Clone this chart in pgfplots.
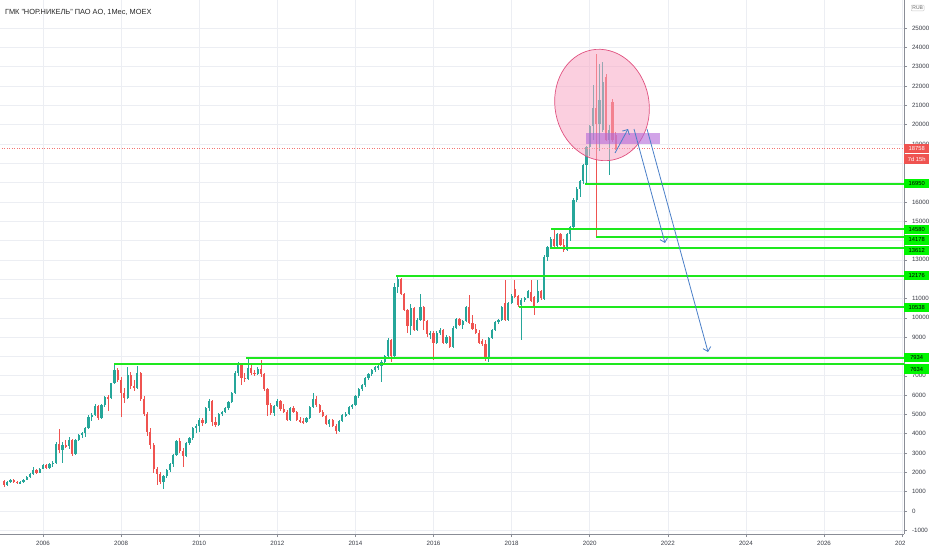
\documentclass[border=0pt]{standalone}
\usepackage{pgfplots}
\pgfplotsset{compat=1.18}
\usepackage{pgfplotstable}
\usepackage{fontspec}
\setmainfont{Liberation Sans}
\usetikzlibrary{arrows.meta}
\definecolor{up}{HTML}{26A69A}
\definecolor{dn}{HTML}{EF5350}
\definecolor{lvl}{HTML}{1EE81E}
\definecolor{lvlbox}{HTML}{00F500}
\definecolor{gridc}{HTML}{ECEEF3}
\definecolor{axc}{HTML}{8A8D96}
\definecolor{txtc}{HTML}{3A3D46}
\definecolor{ellfill}{HTML}{F7A8C4}
\definecolor{elldraw}{HTML}{E0507F}
\definecolor{zone}{HTML}{B267D8}
\definecolor{arr}{HTML}{4A7FC8}

\pgfplotstableread{
i o h l c
0 1550 1600 1250 1350
1 1350 1550 1300 1500
2 1500 1650 1450 1600
3 1600 1650 1450 1520
4 1520 1560 1400 1450
5 1450 1550 1400 1500
6 1500 1650 1450 1620
7 1620 1800 1580 1750
8 1750 1950 1700 1900
9 1900 2300 1850 2100
10 2100 2150 1900 1980
11 1980 2250 1950 2200
12 2200 2450 2150 2400
13 2400 2450 2150 2250
14 2250 2500 2200 2450
15 2450 2600 2300 2500
16 2500 3550 2450 3450
17 3450 4240 3000 3150
18 3150 3550 2500 3400
19 3400 3650 3250 3350
20 3350 3850 3200 3700
21 3700 3750 2850 2950
22 2950 3750 2900 3650
23 3650 4000 3600 3950
24 3950 4100 3800 4050
25 4050 4350 3850 4300
26 4300 4950 4250 4850
27 4850 5050 4650 4950
28 4950 5550 4900 5450
29 5450 5500 4700 4800
30 4800 5550 4750 5500
31 5500 5950 5400 5900
32 5900 6000 5200 5850
33 5850 6650 5800 6600
34 6600 7634 6550 7300
35 7300 7400 6700 6800
36 6800 6950 4880 6100
37 6100 6350 5600 5850
38 5850 7450 5800 7050
39 7050 7200 6300 6450
40 6450 6800 6200 6350
41 6350 7500 6300 7150
42 7150 7200 5700 5800
43 5800 5950 4900 5000
44 5000 5100 3900 4100
45 4100 4300 3200 3400
46 3400 3500 1950 2150
47 2150 2300 1350 1900
48 1900 2000 1400 1500
49 1500 1850 1150 1800
50 1800 2150 1700 2100
51 2100 2500 2000 2450
52 2450 2950 2300 2900
53 2900 3650 2850 3600
54 3600 3800 3000 3100
55 3100 3250 2300 2850
56 2850 3550 2800 3500
57 3500 3850 3400 3800
58 3800 4350 3700 4300
59 4300 4500 4050 4400
60 4400 4800 4100 4700
61 4700 4800 4400 4550
62 4550 5400 4500 5350
63 5350 5800 5200 5700
64 5700 5750 4400 4600
65 4600 4850 4350 4450
66 4450 5050 4400 5000
67 5000 5200 4900 5150
68 5150 5400 5050 5350
69 5350 5700 5250 5650
70 5650 6150 5600 6100
71 6100 7250 6050 7150
72 7150 7700 7000 7550
73 7550 7600 6500 6900
74 6900 7150 6700 6850
75 6850 7934 6800 7400
76 7400 7650 7050 7150
77 7150 7300 7000 7100
78 7100 7450 7050 7350
79 7350 7800 6950 7100
80 7100 7150 6200 6300
81 6300 6350 4900 5500
82 5500 5600 4950 5050
83 5050 5500 4900 5450
84 5450 5800 5400 5700
85 5700 5750 5200 5300
86 5300 5550 5050 5150
87 5150 5250 4650 4700
88 4700 5400 4650 5350
89 5350 5450 5050 5100
90 5100 5200 4650 4700
91 4700 4850 4550 4650
92 4650 4800 4500 4600
93 4600 4850 4550 4800
94 4800 5450 4750 5400
95 5400 6100 5350 5800
96 5800 5950 5400 5500
97 5500 5550 5100 5150
98 5150 5250 4850 4900
99 4900 4950 4450 4500
100 4500 4750 4350 4700
101 4700 4750 4350 4400
102 4400 4500 4000 4150
103 4150 4700 4100 4650
104 4650 5000 4600 4950
105 4950 5100 4850 5000
106 5000 5450 4950 5400
107 5400 5550 5300 5500
108 5500 6000 5450 5950
109 5950 6350 5850 6300
110 6300 6550 6200 6500
111 6500 6950 6400 6900
112 6900 7150 6800 7100
113 7100 7350 7000 7300
114 7300 7500 7200 7450
115 7450 7600 7300 7500
116 7500 7800 6700 7700
117 7700 8100 7600 8000
118 8000 8950 7950 8850
119 8850 8900 7700 8000
120 8000 11800 7950 11600
121 11600 12176 11300 12000
122 12000 12050 11200 11250
123 11250 11300 10350 10400
124 10400 10450 9200 9600
125 9600 10700 9100 10500
126 10500 10550 9300 9350
127 9350 10000 9300 9900
128 9900 11250 9850 10550
129 10550 10600 9350 9850
130 9850 9900 9000 9150
131 9150 9300 8900 9200
132 9200 9300 7800 8700
133 8700 9300 8650 9200
134 9200 9450 9100 9350
135 9350 9400 8650 8700
136 8700 9100 8650 9000
137 9000 9050 8450 8500
138 8500 9600 8450 9450
139 9450 10000 9400 9950
140 9950 10000 9600 9650
141 9650 9900 9400 9850
142 9850 10600 9800 10550
143 10550 11174 9700 9750
144 9750 10150 9350 9400
145 9400 9700 9150 9200
146 9200 9350 8650 8700
147 8800 8900 8550 8650
148 8650 8850 7750 7900
149 7900 9000 7700 8950
150 8950 9400 8900 9350
151 9350 9850 9300 9800
152 9800 9950 9700 9900
153 9900 10600 9850 10550
154 10750 11950 9850 9900
155 9900 10800 9850 10750
156 10750 11250 10700 11150
157 11500 11950 11000 11100
158 11150 11200 10538 10650
159 10650 11000 8850 10900
160 10900 11100 10800 11000
161 11050 11450 11000 11400
162 11350 11950 10800 10850
163 11100 11150 10150 10550
164 10800 11950 10750 11400
165 11400 11450 10900 11000
166 10950 13250 10900 13150
167 13150 13700 12950 13650
168 13650 14200 13612 14100
169 14100 14580 13600 13700
170 13700 14400 13650 14350
171 14350 14400 13700 13750
172 13750 14100 13400 13500
173 13500 14400 13450 14350
174 14350 14750 14000 14700
175 14700 16200 14600 16100
176 16100 16750 16000 16650
177 16650 17150 16250 17100
178 17100 17950 16900 17900
179 17900 18900 16950 18850
180 18850 20000 18350 19950
181 19950 22050 19200 20850
182 20850 23675 14178 20050
183 20050 23150 18650 21250
184 19700 23244 19600 22200
185 22450 22600 19150 19200
186 19200 20000 17380 19700
187 21150 21300 19100 19200
188 19450 19600 18700 18758
}\candles

\pgfplotsset{
  candle/.style 2 args={draw=none, mark=none, forget plot,
    error bars/.cd, y dir=both, y explicit, error mark=none,
    error bar style={draw=#1, line width=#2, solid}},
  level/.style={draw=lvl, line width=2pt, mark=none, forget plot},
}

\begin{document}
\begin{tikzpicture}
\begin{axis}[
  scale only axis, width=904pt, height=534pt,
  at={(0,0)}, anchor=south west,
  xmin=2004.899, xmax=2028.048,
  ymin=-1190, ymax=26449,
  axis x line*=bottom, axis y line*=right,
  x axis line style={-, draw=axc, line width=0.6pt},
  y axis line style={-, draw=axc, line width=0.6pt},
  xtick={2006,2008,...,2028},
  ytick={-1000,0,...,7000,9000,10000,11000,13000,15000,16000,19000,20000,21000,22000,23000,24000,25000},
  extra y ticks={8000,12000,14000,17000,18000},
  extra y tick labels={},
  extra y tick style={grid=major},
  scaled y ticks=false, scaled x ticks=false,
  grid=major, major grid style={draw=gridc, line width=0.6pt},
  tick align=outside, major tick length=3pt,
  tick style={draw=axc, line width=0.5pt},
  /pgf/number format/assume math mode=true,
  /pgf/number format/1000 sep={},
  ticklabel style={font=\fontsize{6.2}{7}\selectfont, text=txtc},
  yticklabel style={anchor=west, xshift=1.5pt},
  xticklabel style={yshift=-1pt},
  clip mode=individual,
]
% candles: wicks and bodies
\addplot[candle={up}{0.75pt}]
  table[x expr=2005+\thisrow{i}/12,
        y expr={\thisrow{c}>=\thisrow{o} ? \thisrow{c} : nan},
        y error plus expr=\thisrow{h}-\thisrow{c},
        y error minus expr=\thisrow{c}-\thisrow{l}] {\candles};
\addplot[candle={dn}{0.75pt}]
  table[x expr=2005+\thisrow{i}/12,
        y expr={\thisrow{c}<\thisrow{o} ? \thisrow{c} : nan},
        y error plus expr=\thisrow{h}-\thisrow{c},
        y error minus expr=\thisrow{c}-\thisrow{l}] {\candles};
\addplot[candle={up}{2.2pt}]
  table[x expr=2005+\thisrow{i}/12,
        y expr={\thisrow{c}>=\thisrow{o} ? (\thisrow{o}+\thisrow{c})/2 : nan},
        y error expr={max(abs(\thisrow{c}-\thisrow{o})/2,15)}] {\candles};
\addplot[candle={dn}{2.2pt}]
  table[x expr=2005+\thisrow{i}/12,
        y expr={\thisrow{c}<\thisrow{o} ? (\thisrow{o}+\thisrow{c})/2 : nan},
        y error expr={max(abs(\thisrow{c}-\thisrow{o})/2,15)}] {\candles};
% current price line
\addplot[draw=dn!80, dotted, line width=0.5pt, mark=none, forget plot] coordinates {(2004.5,18758) (2029,18758)};
% support / resistance levels
\addplot[level] coordinates {(2007.83,7634) (2029,7634)};
\addplot[level] coordinates {(2011.20,7934) (2029,7934)};
\addplot[level] coordinates {(2015.05,12176) (2029,12176)};
\addplot[level] coordinates {(2018.18,10538) (2029,10538)};
\addplot[level] coordinates {(2018.98,13612) (2029,13612)};
\addplot[level] coordinates {(2019.02,14580) (2029,14580)};
\addplot[level] coordinates {(2020.15,14178) (2029,14178)};
\addplot[level] coordinates {(2019.87,16950) (2029,16950)};
% annotations
\draw[draw=elldraw, fill=ellfill, fill opacity=0.55, line width=0.7pt,
  rotate around={11:(axis cs:2020.315,21015)}]
  (axis cs:2020.315,21015) ellipse [x radius=47pt, y radius=56pt];
\fill[zone, fill opacity=0.6] (axis cs:2019.905,18996) rectangle (axis cs:2021.80,19565);
\draw[arr, line width=0.8pt, -{Straight Barb[length=4pt,width=8pt]}]
  (axis cs:2020.648,18530) -- (axis cs:2020.981,19772);
\draw[arr, line width=0.8pt, -{Straight Barb[length=4pt,width=8pt]}]
  (axis cs:2021.134,19772) -- (axis cs:2021.928,13872);
\draw[arr, line width=0.8pt, -{Straight Barb[length=4pt,width=8pt]}]
  (axis cs:2021.467,19772) -- (axis cs:2023.030,8230);
\node[anchor=west, font=\fontsize{7.4}{8}\selectfont, text=black!85, inner sep=0pt]
  at (axis description cs:0.0055,0.9775) {ГМК "НОР.НИКЕЛЬ" ПАО АО, 1Мес, MOEX};
% anchor coordinates for the price scale labels
\coordinate (L16950) at (axis cs:2028.048,16950);
\coordinate (L14580) at (axis cs:2028.048,14580);
\coordinate (L14178) at (axis cs:2028.048,14027);
\coordinate (L13612) at (axis cs:2028.048,13484);
\coordinate (L12176) at (axis cs:2028.048,12176);
\coordinate (L10538) at (axis cs:2028.048,10538);
\coordinate (L7934) at (axis cs:2028.048,7934);
\coordinate (L7634) at (axis cs:2028.048,7350);
\coordinate (L18758) at (axis cs:2028.048,18758);
\coordinate (Ltime) at (axis cs:2028.048,18220);
\coordinate (Lrub) at (axis cs:2028.048,26035);
\end{axis}
\fill[white] (904.5pt,-16pt) rectangle (932pt,-0.4pt);
\tikzset{lab/.style={anchor=west, inner sep=0pt, minimum width=25pt, minimum height=9.4pt,
  font=\fontsize{5.8}{6}\selectfont}}
\foreach \n/\t in {L16950/16950, L14580/14580, L14178/14178, L13612/13612,
  L12176/12176, L10538/10538, L7934/7934, L7634/7634}{
  \node[lab, fill=lvlbox, text=black] at (\n) {\t};
}
\node[lab, fill=dn, text=white] at (L18758) {18758};
\node[lab, fill=dn, text=white] at (Ltime) {7d 15h};
\node[anchor=west, xshift=7pt, inner sep=1.2pt, draw=gray!45, rounded corners=1pt,
  font=\fontsize{5}{6}\selectfont, text=gray!80!black] at (Lrub) {RUB};
\pgfresetboundingbox
\useasboundingbox (0,-16pt) rectangle (932pt,534pt);
\end{tikzpicture}
\end{document}
